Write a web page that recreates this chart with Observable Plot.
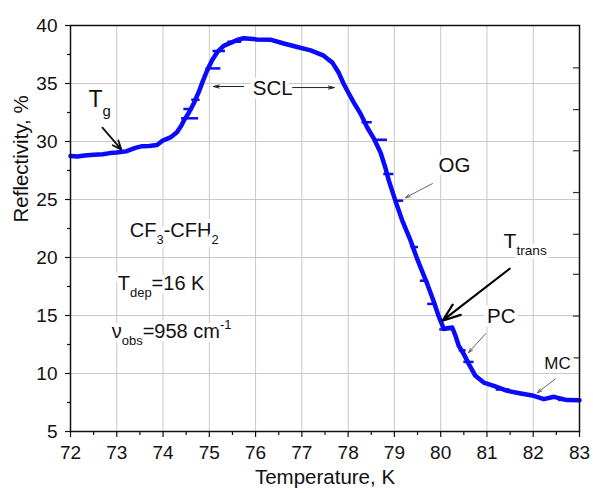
<!DOCTYPE html>
<html><head><meta charset="utf-8">
<script src="https://cdn.jsdelivr.net/npm/d3@7"></script>
<script src="https://cdn.jsdelivr.net/npm/@observablehq/plot@0.6"></script>
<style>body{margin:0;background:#fff;} svg{font-family:"Liberation Sans",Arial,sans-serif;}</style>
</head><body><div id="chart"></div>
<script>
// ---- data ----
const temperature = [72.00,72.15,72.30,72.50,72.70,72.85,73.00,73.20,73.40,73.55,73.70,73.87,73.98,74.16,74.30,74.40,74.45,74.56,74.66,74.77,74.85,74.95,75.06,75.17,75.31,75.46,75.60,75.74,76.03,76.32,76.61,76.90,77.19,77.47,77.66,77.80,77.90,78.00,78.12,78.27,78.41,78.56,78.70,78.80,78.88,79.02,79.17,79.35,79.49,79.58,79.71,79.85,79.96,80.07,80.14,80.25,80.32,80.39,80.50,80.61,80.75,80.93,81.15,81.44,81.73,82.01,82.23,82.45,82.73,83.00];
const reflectivity = [28.75,28.70,28.80,28.85,28.90,29.00,29.05,29.15,29.45,29.60,29.62,29.70,30.05,30.35,30.80,31.40,31.80,32.50,33.25,34.25,35.10,36.10,37.00,37.70,38.25,38.50,38.75,38.90,38.80,38.78,38.45,38.15,37.85,37.40,36.80,35.90,35.00,34.25,33.38,32.38,31.23,30.22,29.05,27.80,26.63,24.90,23.18,21.45,19.90,19.00,17.72,16.20,14.90,13.83,13.90,13.97,13.25,12.39,11.67,10.81,9.80,9.22,8.94,8.51,8.28,8.08,7.79,7.99,7.71,7.70];

// short horizontal noise spikes on the trace
const spikeY  = [32.0, 32.8, 33.6, 36.3, 37.8, 38.6, 31.66, 30.15, 27.2, 24.9, 20.9, 18.0, 16.0, 13.8, 12.0, 11.0, 8.62, 7.72];
const spikeX1 = [74.40, 74.45, 74.62, 74.93, 75.08, 75.40, 78.30, 78.56, 78.77, 79.02, 79.36, 79.56, 79.72, 79.98, 80.40, 80.50, 81.20, 82.55];
const spikeX2 = [74.77, 74.66, 74.80, 75.25, 75.35, 75.70, 78.52, 78.85, 78.99, 79.20, 79.52, 79.74, 79.88, 80.15, 80.55, 80.72, 81.50, 82.75];

const xTicks = [72,73,74,75,76,77,78,79,80,81,82,83];
const xMinorTicks = [72.5,73.5,74.5,75.5,76.5,77.5,78.5,79.5,80.5,81.5,82.5];
const yTicks = [5,10,15,20,25,30,35,40];
const yMinorTicks = [7.5,12.5,17.5,22.5,27.5,32.5,37.5];
const rightAxisTicks = [36.35,32.75,29.2,25.6,22.0,18.55,14.95,11.35];

const xLabel = "Temperature, K";
const yLabel = "Reflectivity, %";

// annotations (data coordinates)
const labelText   = ["T_{g}", "SCL", "OG", "T_{trans}", "PC", "MC", "CF_{3}-CFH_{2}", "T_{dep}=16 K", "ν_{obs}=958 cm^{-1}"];
const labelX      = [72.39, 76.37, 80.30, 81.36, 81.31, 82.525, 73.28, 73.02, 72.89];
const labelY      = [33.57, 34.56, 27.92, 21.41, 14.89, 10.84, 22.31, 17.78, 13.64];
const labelSize   = [23, 20.5, 20.5, 21, 20.5, 17, 20, 20, 20];
const labelAnchor = ["start","middle","middle","start","middle","middle","start","start","start"];

const arrowX1 = [72.69, 75.74, 76.80, 79.82, 81.49, 80.97, 82.48];
const arrowY1 = [31.20, 34.74, 34.65, 26.37, 19.03, 13.43, 9.54];
const arrowX2 = [73.10, 75.09, 77.70, 79.24, 80.04, 80.60, 82.09];
const arrowY2 = [29.30, 34.74, 34.65, 25.16, 14.55, 11.79, 8.34];
const arrowKind = ["bold","thin","thin","gray","heavy","gray","gray"];

// ---- build tables ----
const curve = temperature.map((t, i) => ({t, r: reflectivity[i]}));
const spikes = spikeY.map((y, i) => ({y, x1: spikeX1[i], x2: spikeX2[i]}));
const labels = labelText.map((s, i) => ({s, x: labelX[i], y: labelY[i], size: labelSize[i], anchor: labelAnchor[i]}));
const arrows = arrowX1.map((x1, i) => ({x1, y1: arrowY1[i], x2: arrowX2[i], y2: arrowY2[i], kind: arrowKind[i]}));
const arrowsOf = k => arrows.filter(a => a.kind === k);
const arrowCh = {x1: "x1", y1: "y1", x2: "x2", y2: "y2"};

const blue = "#0a0aff";
const gridStyle = {stroke: "#c8c8c8", strokeOpacity: 1, strokeWidth: 1};

const chart = Plot.plot({
  width: 593, height: 493,
  marginLeft: 70, marginRight: 14, marginTop: 25, marginBottom: 62,
  style: {fontFamily: "'Liberation Sans', Arial, sans-serif", fontSize: "19px", color: "#111", background: "white", overflow: "visible"},
  x: {domain: [72, 83], label: null},
  y: {domain: [5, 40], label: null},
  marks: [
    Plot.gridX(xTicks.slice(1, -1), gridStyle),
    Plot.gridY(yTicks.slice(1, -1), gridStyle),
    Plot.ruleY(rightAxisTicks, {insetLeft: 503, stroke: "#333", strokeWidth: 1.2}),
    Plot.line(curve, {x: "t", y: "r", stroke: blue, strokeWidth: 4.5, strokeLinejoin: "round"}),
    Plot.ruleY(spikes, {y: "y", x1: "x1", x2: "x2", stroke: blue, strokeWidth: 2.5}),
    Plot.text(labels.filter(d => d.anchor === "start"), {x: "x", y: "y", text: "s", fontSize: d => d.size, textAnchor: "start", fill: "#111", stroke: "white", strokeWidth: 8, paintOrder: "stroke"}),
    Plot.text(labels.filter(d => d.anchor === "middle"), {x: "x", y: "y", text: "s", fontSize: d => d.size, textAnchor: "middle", fill: "#111", stroke: "white", strokeWidth: 8, paintOrder: "stroke"}),
    Plot.arrow(arrowsOf("bold"), {...arrowCh, stroke: "#111", strokeWidth: 1.8, headLength: 10, headAngle: 45}),
    Plot.arrow(arrowsOf("thin"), {...arrowCh, stroke: "#222", strokeWidth: 1, headLength: 9, headAngle: 30}),
    Plot.arrow(arrowsOf("gray"), {...arrowCh, stroke: "#555", strokeWidth: 0.9, headLength: 8, headAngle: 35}),
    Plot.arrow(arrowsOf("heavy"), {...arrowCh, stroke: "#000", strokeWidth: 2.2, headLength: 13, headAngle: 40}),
    Plot.frame({stroke: "#111", strokeWidth: 1.5}),
    Plot.axisX(xTicks, {tickSize: 6, tickPadding: 8, fontSize: 19, strokeWidth: 1.2}),
    Plot.axisX(xMinorTicks, {tickSize: 4, tickFormat: () => "", strokeWidth: 1.2}),
    Plot.axisY(yTicks, {tickSize: 5, tickPadding: 8, fontSize: 19, strokeWidth: 1.2}),
    Plot.axisY(yMinorTicks, {tickSize: 3, tickFormat: () => "", strokeWidth: 1.2}),
    Plot.text([xLabel], {frameAnchor: "bottom", dy: 52, fontSize: 20.5, fill: "#111"}),
    Plot.text([yLabel], {frameAnchor: "left", dx: -49, dy: -6, rotate: -90, fontSize: 20.5, fill: "#111"})
  ]
});
document.getElementById("chart").appendChild(chart);

// turn _{..} and ^{..} into sub/superscript tspans
function richText(svg) {
  svg.querySelectorAll("text").forEach(el => {
    const s = el.textContent;
    if (!/[_^]\{/.test(s)) return;
    const fs = parseFloat(getComputedStyle(el).fontSize) || 18;
    el.textContent = "";
    const re = /([_^])\{([^}]*)\}|([^_^]+)/g;
    let m, shift = 0;
    while ((m = re.exec(s))) {
      const t = document.createElementNS("http://www.w3.org/2000/svg", "tspan");
      let target = 0, size = null, txt;
      if (m[3] !== undefined) { txt = m[3]; }
      else { txt = m[2]; target = m[1] === "_" ? 0.36 * fs : -0.42 * fs; size = 0.65 * fs; }
      const d = target - shift;
      if (d) t.setAttribute("dy", d);
      if (size) t.setAttribute("font-size", size);
      t.textContent = txt;
      el.appendChild(t);
      shift = target;
    }
  });
}
richText(chart);
</script>
</body></html>
